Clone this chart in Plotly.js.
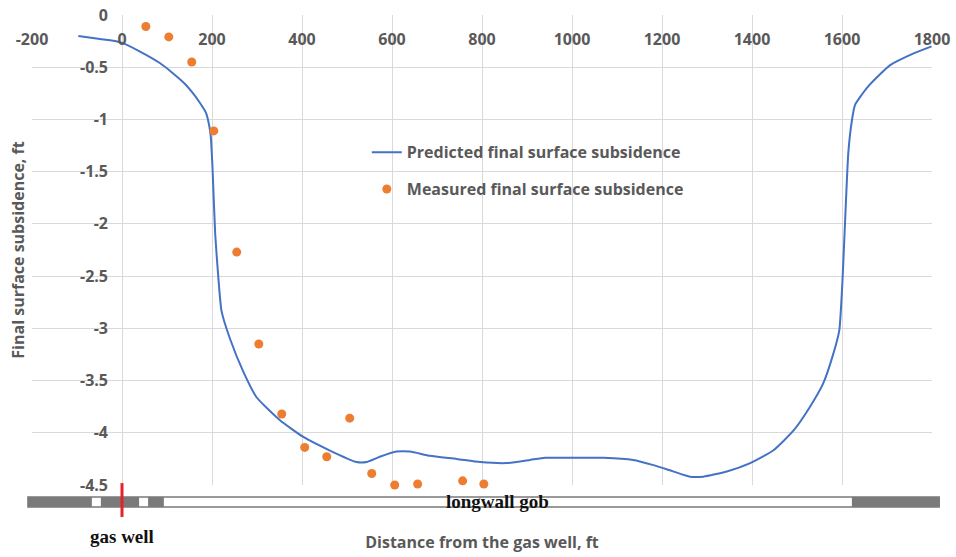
<!DOCTYPE html>
<html>
<head>
<meta charset="utf-8">
<script src="https://cdn.plot.ly/plotly-3.0.1.min.js"></script>
<style>
  html, body { margin: 0; padding: 0; background: #ffffff; }
  #chart { width: 956px; height: 557px; }
</style>
</head>
<body>
<div id="chart"></div>
<script>
// Predicted final surface subsidence profile (distance ft, subsidence ft)
const predX = [-97, -49, -4, 40, 84, 111, 140, 158, 173, 186, 191, 197, 201, 207, 214, 221, 240, 270, 299, 351, 403, 462, 521, 544, 573, 610, 640, 684, 744, 796, 855, 907, 940, 996, 1070, 1136, 1181, 1225, 1262, 1292, 1344, 1396, 1447, 1492, 1529, 1558, 1581, 1594, 1601, 1607, 1614, 1622, 1629, 1655, 1684, 1707, 1758, 1799];
const predY = [-0.20, -0.23, -0.26, -0.35, -0.46, -0.55, -0.66, -0.75, -0.84, -0.93, -1.00, -1.15, -1.45, -2.09, -2.51, -2.83, -3.10, -3.42, -3.66, -3.88, -4.04, -4.17, -4.28, -4.28, -4.23, -4.18, -4.18, -4.22, -4.25, -4.28, -4.29, -4.26, -4.24, -4.24, -4.24, -4.26, -4.31, -4.37, -4.42, -4.42, -4.37, -4.29, -4.17, -3.98, -3.75, -3.53, -3.24, -3.02, -2.55, -1.96, -1.32, -1.01, -0.86, -0.70, -0.57, -0.48, -0.37, -0.30];

// Measured final surface subsidence
const measX = [53, 104, 155, 204, 255, 304, 355, 406, 455, 506, 555, 606, 657, 757, 804];
const measY = [-0.11, -0.21, -0.45, -1.11, -2.27, -3.15, -3.82, -4.14, -4.23, -3.86, -4.39, -4.50, -4.49, -4.46, -4.49];

// Axis ticks and labels
const xTicks = [-200, 0, 200, 400, 600, 800, 1000, 1200, 1400, 1600, 1800];
const xTickText = ['-200', '0', '200', '400', '600', '800', '1000', '1200', '1400', '1600', '1800'];
const yTicks = [0, -0.5, -1, -1.5, -2, -2.5, -3, -3.5, -4, -4.5];
const yTickText = ['0', '-0.5', '-1', '-1.5', '-2', '-2.5', '-3', '-3.5', '-4', '-4.5'];

// Panel strip below the plot (distance ft): solid pillars and the longwall gob
const stripSpan = [-209, 1816];
const pillarSpans = [[-209, -67], [-47, 38], [58, 93], [1622, 1816]];
const gobLabelX = 835;
const gasWellX = 0;

const xRange = [-200, 1800];
const yRange = [-4.5, 0];
const px = v => (v - xRange[0]) / (xRange[1] - xRange[0]);

const gray = '#595959';
const uiFont = 'Open Sans, Lato, sans-serif';
const serif = 'Liberation Serif, Times New Roman, serif';

const traces = [
  {
    x: predX, y: predY, type: 'scatter', mode: 'lines',
    name: 'Predicted final surface subsidence',
    line: { color: '#4472C4', width: 2, shape: 'spline', smoothing: 0.5 },
    legendgroup: 'a'
  },
  {
    x: measX, y: measY, type: 'scatter', mode: 'markers',
    name: 'Measured final surface subsidence',
    marker: { color: '#ED7D31', size: 9 },
    cliponaxis: false,
    legendgroup: 'b'
  }
];

// strip geometry in paper units
const stripTop = -0.0255, stripBot = -0.0468;
const shapes = [];
shapes.push({
  type: 'rect', xref: 'paper', yref: 'paper',
  x0: px(stripSpan[0]), x1: px(stripSpan[1]), y0: stripBot, y1: stripTop,
  fillcolor: '#ffffff', line: { color: '#7a7a7a', width: 1.5 }
});
pillarSpans.forEach(s => shapes.push({
  type: 'rect', xref: 'paper', yref: 'paper',
  x0: px(s[0]), x1: px(s[1]), y0: stripBot, y1: stripTop,
  fillcolor: '#7a7a7a', line: { width: 0 }
}));
shapes.push({
  type: 'line', xref: 'paper', yref: 'paper',
  x0: px(gasWellX), x1: px(gasWellX), y0: 0.004, y1: -0.068,
  line: { color: '#e3222b', width: 3 }
});

const annotations = [
  {
    text: '<b>longwall gob</b>', xref: 'x', yref: 'paper',
    x: gobLabelX, y: (stripTop + stripBot) / 2, showarrow: false,
    font: { family: serif, size: 19, color: '#111111' },
    yanchor: 'middle'
  },
  {
    text: '<b>gas well</b>', xref: 'x', yref: 'paper',
    x: gasWellX, y: -0.109, showarrow: false,
    font: { family: serif, size: 19, color: '#111111' },
    yanchor: 'middle'
  }
];

const layout = {
  width: 956, height: 557,
  margin: { l: 32, r: 24, t: 15, b: 72 },
  paper_bgcolor: '#ffffff', plot_bgcolor: '#ffffff',
  showlegend: true,
  legend: {
    x: 0.372, y: 0.744, xanchor: 'left', yanchor: 'top',
    bgcolor: 'rgba(0,0,0,0)', borderwidth: 0,
    traceorder: 'grouped', tracegroupgap: 13,
    font: { family: uiFont, size: 16, color: gray, weight: 700 }
  },
  xaxis: {
    range: xRange, anchor: 'free', position: 1, side: 'bottom',
    tickmode: 'array', tickvals: xTicks, ticktext: xTickText,
    showgrid: true, gridcolor: '#d9d9d9', gridwidth: 1,
    zeroline: false, showline: false, ticks: '',
    ticklabelstandoff: 13,
    tickfont: { family: uiFont, size: 16, color: gray, weight: 700 },
    title: { text: 'Distance from the gas well, ft', standoff: 487,
             font: { family: uiFont, size: 16, color: gray, weight: 700 } }
  },
  yaxis: {
    range: yRange, anchor: 'free', position: px(0),
    tickmode: 'array', tickvals: yTicks, ticktext: yTickText,
    showgrid: true, gridcolor: '#d9d9d9', gridwidth: 1,
    zeroline: false, showline: false, ticks: '',
    ticklabelstandoff: 14,
    tickfont: { family: uiFont, size: 16, color: gray, weight: 700 },
    title: { text: 'Final surface subsidence, ft', standoff: 50,
             font: { family: uiFont, size: 16, color: gray, weight: 700 } }
  },
  shapes: shapes,
  annotations: annotations
};

Plotly.newPlot('chart', traces, layout, { staticPlot: true, displayModeBar: false });
</script>
</body>
</html>
